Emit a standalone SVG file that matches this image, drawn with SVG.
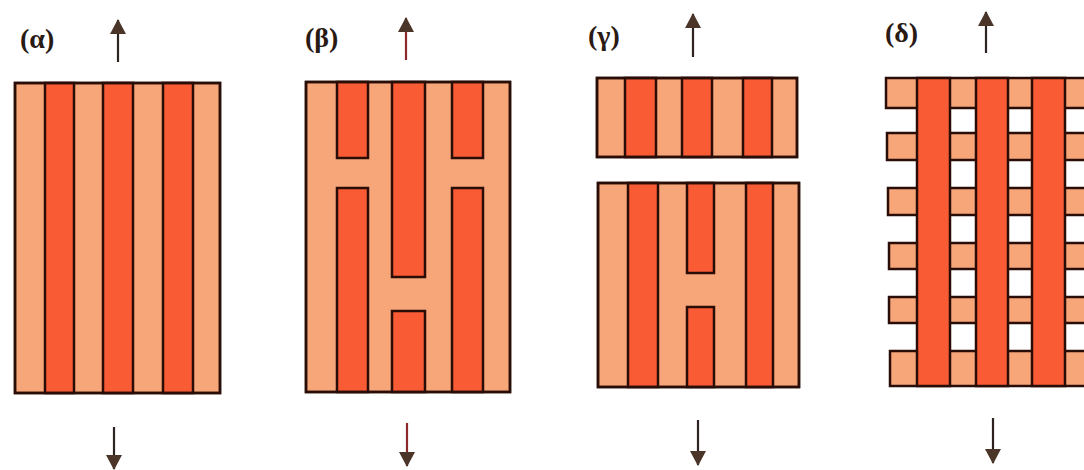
<svg xmlns="http://www.w3.org/2000/svg" width="1084" height="470" viewBox="0 0 1084 470">
<style>
.lt{fill:#F7A679;stroke:#2a0d07;stroke-width:2.5}
.dk{fill:#F95B35;stroke:#2a0d07;stroke-width:2.5}
.st{stroke:#2a0d07;stroke-width:2.5}
.lbl{font-weight:bold;font-size:28px;fill:#2a1a14}
.ar{stroke:#2e2320;stroke-width:2.2;fill:none}
.arr{stroke:#8a2a2a;stroke-width:2.2;fill:none}
</style>
<defs>
<marker id="ah" viewBox="0 0 15 16" refX="14" refY="8" markerWidth="15" markerHeight="16" markerUnits="userSpaceOnUse" orient="auto">
<path d="M0,0 L15,8 L0,16 Z" fill="#4a3528"/>
</marker>
</defs>
<rect width="1084" height="470" fill="#ffffff"/>

<g id="panel-alpha">
<text class="lbl" font-family="Liberation Serif, Times New Roman, serif" x="20" y="48">(α)</text>
<rect class="lt" x="15" y="83" width="205" height="310"/>
<rect class="dk" x="45" y="83" width="29" height="310"/>
<rect class="dk" x="103" y="83" width="30" height="310"/>
<rect class="dk" x="163" y="83" width="30" height="310"/>
<rect x="15" y="83" width="205" height="310" fill="none" class="st"/>
</g>

<g id="panel-beta">
<text class="lbl" font-family="Liberation Serif, Times New Roman, serif" x="305" y="47">(β)</text>
<rect class="lt" x="306" y="82" width="204" height="310"/>
<rect class="dk" x="337" y="82" width="31" height="76"/>
<rect class="dk" x="337" y="188" width="31" height="204"/>
<rect class="dk" x="392" y="82" width="33" height="195"/>
<rect class="dk" x="392" y="311" width="33" height="81"/>
<rect class="dk" x="452" y="82" width="31" height="76"/>
<rect class="dk" x="452" y="188" width="31" height="204"/>
<rect x="306" y="82" width="204" height="310" fill="none" class="st"/>
</g>

<g id="panel-gamma">
<text class="lbl" font-family="Liberation Serif, Times New Roman, serif" x="588" y="45">(γ)</text>
<g id="gamma-top">
<rect class="lt" x="597" y="78" width="200" height="79"/>
<rect class="dk" x="625" y="78" width="31" height="79"/>
<rect class="dk" x="682" y="78" width="30" height="79"/>
<rect class="dk" x="743" y="78" width="29" height="79"/>
<rect x="597" y="78" width="200" height="79" fill="none" class="st"/>
</g>
<g id="gamma-bottom">
<rect class="lt" x="598" y="183" width="201" height="204"/>
<rect class="dk" x="628" y="183" width="30" height="204"/>
<rect class="dk" x="687" y="183" width="27" height="90"/>
<rect class="dk" x="687" y="307" width="27" height="80"/>
<rect class="dk" x="746" y="183" width="27" height="204"/>
<rect x="598" y="183" width="201" height="204" fill="none" class="st"/>
</g>
</g>

<g id="panel-delta">
<text class="lbl" font-family="Liberation Serif, Times New Roman, serif" x="885" y="42">(δ)</text>
<rect class="lt" x="886" y="78" width="210" height="30"/>
<rect class="lt" x="887" y="133" width="210" height="27"/>
<rect class="lt" x="888" y="188" width="210" height="27"/>
<rect class="lt" x="889" y="243" width="210" height="26"/>
<rect class="lt" x="889" y="297" width="210" height="26"/>
<rect class="lt" x="890" y="351" width="210" height="35"/>
<rect class="dk" x="917" y="78" width="33" height="308"/>
<rect class="dk" x="976" y="78" width="32" height="308"/>
<rect class="dk" x="1032" y="78" width="33" height="308"/>
</g>

<g id="connectors">
<line class="ar" x1="118" y1="62" x2="118" y2="20" marker-end="url(#ah)"/>
<line class="arr" x1="406" y1="60" x2="406" y2="18" marker-end="url(#ah)"/>
<line class="ar" x1="693" y1="57" x2="693" y2="14" marker-end="url(#ah)"/>
<line class="ar" x1="986" y1="53" x2="986" y2="12" marker-end="url(#ah)"/>
<line class="ar" x1="114" y1="427" x2="114" y2="469" marker-end="url(#ah)"/>
<line class="arr" x1="407" y1="423" x2="407" y2="466" marker-end="url(#ah)"/>
<line class="ar" x1="698" y1="420" x2="698" y2="465" marker-end="url(#ah)"/>
<line class="ar" x1="993" y1="418" x2="993" y2="463" marker-end="url(#ah)"/>
</g>
</svg>
